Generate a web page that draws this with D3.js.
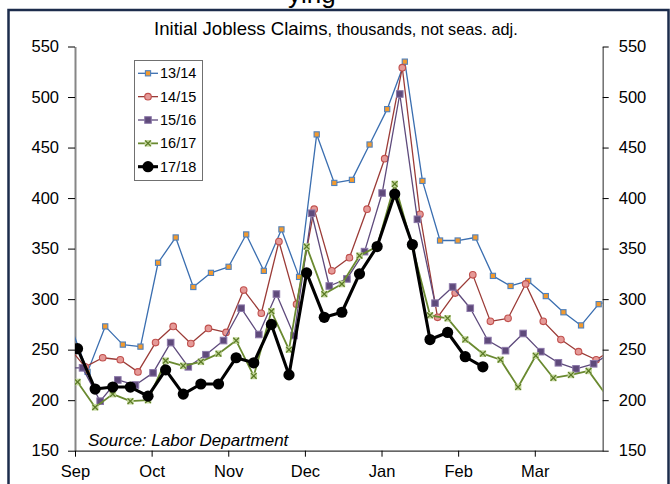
<!DOCTYPE html>
<html>
<head>
<meta charset="utf-8">
<script src="https://cdn.jsdelivr.net/npm/d3@7"></script>
<style>
  body { margin: 0; background: #fff; }
  text { font-family: "Liberation Sans", Arial, sans-serif; }
</style>
</head>
<body>
<div id="chart"></div>
<script>
// weekly initial claims, thousands; first value of each season is the week at firstDay (days after Sep 1)
var seasons = ["13/14", "14/15", "15/16", "16/17", "17/18"];
var firstDay = [-2, -3, -4, 1, 1];
var claims1314 = [275, 228, 273, 255, 253, 336, 361, 312, 326, 332, 364, 328, 369, 322, 463, 415, 418, 453, 488, 535, 417, 358, 358, 361, 323, 313, 318, 303, 287, 274, 295, 300];
var claims1415 = [254, 233, 242, 240, 228, 257, 273, 256, 271, 267, 309, 286, 357, 295, 389, 328, 341, 389, 439, 529, 384, 282, 306, 324, 278, 281, 315, 278, 260, 248, 240, 251];
var claims1516 = [232, 232, 199, 220, 215, 227, 257, 233, 245, 259, 291, 265, 305, 264, 385, 313, 320, 347, 405, 503, 379, 296, 312, 291, 259, 249, 266, 248, 237, 231, 236, 247];
var claims1617 = [218, 193, 206, 199, 200, 239, 234, 238, 246, 259, 224, 288, 250, 352, 305, 315, 343, 352, 414, 352, 284, 281, 260, 246, 240, 213, 244, 222, 225, 229, 205];
var claims1718 = [251, 211, 213, 213, 204, 230, 206, 216, 216, 242, 237, 275, 225, 326, 282, 287, 325, 352, 404, 354, 260, 267, 243, 233];
var monthLabels = ["Sep", "Oct", "Nov", "Dec", "Jan", "Feb", "Mar"];
var yTicks = [150, 200, 250, 300, 350, 400, 450, 500, 550];

var allClaims = [claims1314, claims1415, claims1516, claims1617, claims1718];

var styles = [
    { line: "#3a6eb0", width: 1.3, shape: "smallsquare", fill: "#f39a2e", stroke: "#4f81bd" },
    { line: "#9b3b37", width: 1.3, shape: "circle", fill: "#e59a98", stroke: "#c0504d" },
    { line: "#5e4a7c", width: 1.3, shape: "square", fill: "#5f4a7b", stroke: "#8c78a9" },
    { line: "#6a8a30", width: 1.8, shape: "cross", fill: "#c4d79b", stroke: "#5a7a25" },
    { line: "#000000", width: 3.1, shape: "dot", fill: "#000000", stroke: "#000000" }
];

var W = 670, H = 484;
var plotL = 75, plotR = 602.7, plotB = 450.7, plotT = 46.5;
var daysShown = 209.6;

var svg = d3.select("#chart").append("svg")
    .attr("width", W)
    .attr("height", H);

// frame of the original slide
svg.append("rect")
    .attr("x", 8.5).attr("y", 10)
    .attr("width", 660).attr("height", 490)
    .attr("fill", "none")
    .attr("stroke", "#1c2c4c")
    .attr("stroke-width", 2.5);

// heading of the slide, cut off at the top edge
svg.append("text")
    .attr("x", 288).attr("y", 3)
    .attr("font-size", "26px")
    .attr("fill", "#000")
    .text("ying");

var x = d3.scaleLinear().domain([0, daysShown]).range([plotL, plotR]);
var y = d3.scaleLinear().domain([150, 550]).range([plotB, plotT]);
var monthDays = monthLabels.map(function (m, i) { return i * 365.25 / 12; });

svg.append("defs").append("clipPath").attr("id", "plotclip")
    .append("rect")
    .attr("x", plotL).attr("y", 0)
    .attr("width", plotR - plotL).attr("height", H);

// axes
var yLeft = svg.append("g")
    .attr("transform", "translate(" + plotL + ",0)")
    .call(d3.axisLeft(y).tickValues(yTicks).tickSize(7).tickSizeOuter(0).tickPadding(9));
var yRight = svg.append("g")
    .attr("transform", "translate(" + plotR + ",0)")
    .call(d3.axisRight(y).tickValues(yTicks).tickSize(6).tickSizeOuter(0).tickPadding(10));
var xAxis = svg.append("g")
    .attr("transform", "translate(0," + plotB + ")")
    .call(d3.axisBottom(x).tickValues(monthDays)
        .tickFormat(function (d, i) { return monthLabels[i]; })
        .tickSize(6).tickSizeOuter(0).tickPadding(9));

[yLeft, yRight, xAxis].forEach(function (g) {
    g.selectAll("text").attr("font-size", "16.5px").attr("fill", "#000")
        .style("font-family", "'Liberation Sans', Arial, sans-serif");
    g.selectAll(".tick line").attr("stroke", "#000");
});
yLeft.select(".domain").attr("stroke", "#868686").attr("stroke-width", 2);
yRight.select(".domain").attr("stroke", "#6e6e6e").attr("stroke-width", 1.5);
xAxis.select(".domain").attr("stroke", "#333").attr("stroke-width", 1.2);

// title
var title = svg.append("text")
    .attr("x", 154).attr("y", 35)
    .attr("fill", "#000");
title.append("tspan").attr("font-size", "18.6px").text("Initial Jobless Claims");
title.append("tspan").attr("font-size", "16.3px").text(", thousands, not seas. adj.");

svg.append("text")
    .attr("x", 88).attr("y", 446)
    .attr("font-size", "17px")
    .attr("font-style", "italic")
    .attr("fill", "#000")
    .text("Source: Labor Department");

function drawMarker(g, s, cx, cy) {
    if (s.shape === "smallsquare") {
        g.append("rect").attr("x", cx - 2.6).attr("y", cy - 2.6).attr("width", 5.2).attr("height", 5.2)
            .attr("fill", s.fill).attr("stroke", s.stroke).attr("stroke-width", 1.1);
    } else if (s.shape === "circle") {
        g.append("circle").attr("cx", cx).attr("cy", cy).attr("r", 3.3)
            .attr("fill", s.fill).attr("stroke", s.stroke).attr("stroke-width", 1.1);
    } else if (s.shape === "square") {
        g.append("rect").attr("x", cx - 3.3).attr("y", cy - 3.3).attr("width", 6.6).attr("height", 6.6)
            .attr("fill", s.fill).attr("stroke", s.stroke).attr("stroke-width", 1);
    } else if (s.shape === "cross") {
        g.append("rect").attr("x", cx - 3.3).attr("y", cy - 3.3).attr("width", 6.6).attr("height", 6.6)
            .attr("fill", s.fill).attr("stroke", "none");
        g.append("path").attr("d", "M" + (cx - 2.8) + "," + (cy - 2.8) + "L" + (cx + 2.8) + "," + (cy + 2.8) +
            "M" + (cx + 2.8) + "," + (cy - 2.8) + "L" + (cx - 2.8) + "," + (cy + 2.8))
            .attr("stroke", s.stroke).attr("stroke-width", 1.3);
    } else {
        g.append("circle").attr("cx", cx).attr("cy", cy).attr("r", 5.6).attr("fill", s.fill);
    }
}

// series
var plot = svg.append("g").attr("clip-path", "url(#plotclip)");
allClaims.forEach(function (values, k) {
    var s = styles[k];
    var pts = values.map(function (v, i) { return { day: firstDay[k] + 7 * i, v: v }; });
    var g = plot.append("g");
    g.append("path")
        .datum(pts)
        .attr("fill", "none")
        .attr("stroke", s.line)
        .attr("stroke-width", s.width)
        .attr("stroke-linejoin", "round")
        .attr("d", d3.line().x(function (d) { return x(d.day); }).y(function (d) { return y(d.v); }));
    pts.forEach(function (d) { drawMarker(g, s, x(d.day), y(d.v)); });
});

// legend
var legend = svg.append("g");
legend.append("rect")
    .attr("x", 134.5).attr("y", 60.5)
    .attr("width", 68).attr("height", 120)
    .attr("fill", "#fff")
    .attr("stroke", "#707070")
    .attr("stroke-width", 1);
seasons.forEach(function (name, i) {
    var s = styles[i];
    var ly = 73.3 + i * 23.35;
    var row = legend.append("g");
    row.append("line")
        .attr("x1", 138).attr("x2", 158).attr("y1", ly).attr("y2", ly)
        .attr("stroke", s.line).attr("stroke-width", s.width);
    drawMarker(row, s, 148, ly);
    row.append("text")
        .attr("x", 160).attr("y", ly)
        .attr("dy", "0.35em")
        .attr("font-size", "14.5px")
        .attr("fill", "#000")
        .text(name);
});
</script>
</body>
</html>
